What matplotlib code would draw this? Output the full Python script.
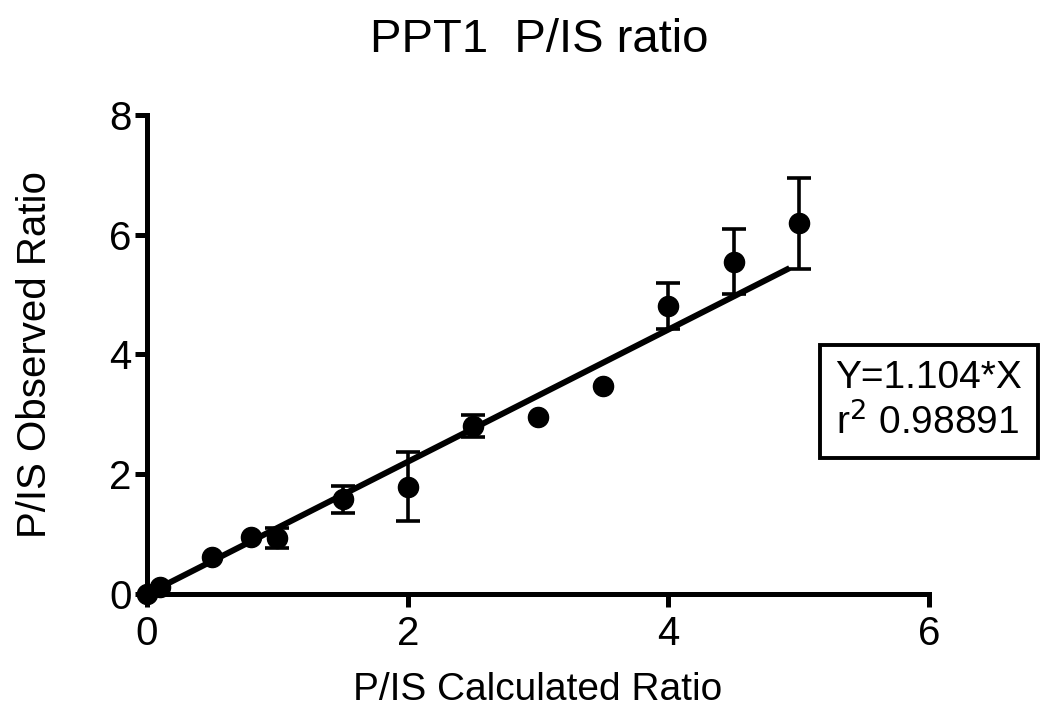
import numpy as np
from matplotlib import pyplot as plt

plt.rcParams['font.family'] = ['Liberation Sans', 'DejaVu Sans']

# calculated vs observed P/IS ratio, mean and SD
calc_ratio = [0, 0.1, 0.5, 0.8, 1.0, 1.5, 2.0, 2.5, 3.0, 3.5, 4.0, 4.5, 5.0]
obs_ratio = [0.0, 0.12, 0.62, 0.95, 0.93, 1.58, 1.79, 2.80, 2.95, 3.47, 4.81, 5.55, 6.19]
obs_sd = [0, 0, 0, 0, 0.165, 0.225, 0.575, 0.185, 0, 0, 0.385, 0.54, 0.755]

fit_slope = 1.104
r_squared = 0.98891
fit_range = [0.12, 4.93]

x_ticks = [0, 2, 4, 6]
y_ticks = [0, 2, 4, 6, 8]


def main():
    fig = plt.figure(figsize=(10.61, 7.15), dpi=100)
    ax = fig.add_axes([0.1386, 0.1692, 0.8756 - 0.1386, 0.8392 - 0.1692])

    x = np.array(calc_ratio)
    y = np.array(obs_ratio)
    sd = np.array(obs_sd)
    has_err = sd > 0

    # fitted line
    xf = np.array(fit_range)
    ax.plot(xf, fit_slope * xf, color='black', lw=4.3, solid_capstyle='butt', zorder=2)

    ax.errorbar(x[has_err], y[has_err], yerr=sd[has_err], fmt='none', ecolor='black',
                elinewidth=2.6, capsize=8.5, capthick=2.6, clip_on=False, zorder=3)
    ax.plot(x, y, 'o', color='black', ms=14.5, clip_on=False, zorder=4)

    ax.set_xlim(0, 6)
    ax.set_ylim(0, 8)
    ax.set_xticks(x_ticks)
    ax.set_yticks(y_ticks)
    ax.spines['top'].set_visible(False)
    ax.spines['right'].set_visible(False)
    for s in ('left', 'bottom'):
        ax.spines[s].set_linewidth(3.6)
        ax.spines[s].set_capstyle('projecting')
    ax.tick_params(width=3.6, length=9, labelsize=29)
    ax.tick_params(axis='y', pad=2)
    ax.tick_params(axis='x', pad=6)

    ax.set_xlabel('P/IS Calculated Ratio', fontsize=28, labelpad=14)
    ax.set_ylabel('P/IS Observed Ratio', fontsize=29, labelpad=40)
    fig.suptitle('PPT1  P/IS ratio', fontsize=34, x=0.508, y=0.975)

    fig.text(0.7875, 0.439, 'Y=%.3f*X\nr$^2$ %.5f' % (fit_slope, r_squared),
             fontsize=28, ha='left', va='center', linespacing=1.2,
             bbox=dict(boxstyle='square,pad=0.4', fc='white', ec='black', lw=2.8))

    fig.savefig('out.png', dpi=100)


if __name__ == "__main__":
    main()
